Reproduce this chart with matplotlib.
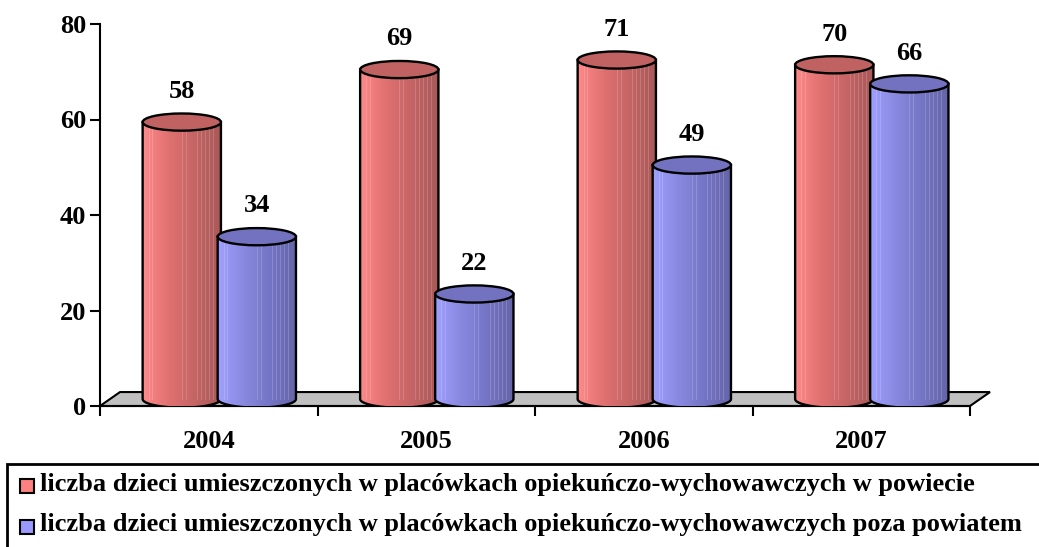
import numpy as np
import matplotlib.pyplot as plt
from matplotlib.patches import Ellipse, Polygon, Rectangle
from matplotlib.colors import LinearSegmentedColormap

years = ['2004', '2005', '2006', '2007']
w_powiecie = [58, 69, 71, 70]
poza_powiatem = [34, 22, 49, 66]
legend_labels = [
    'liczba dzieci umieszczonych w placówkach opiekuńczo-wychowawczych w powiecie',
    'liczba dzieci umieszczonych w placówkach opiekuńczo-wychowawczych poza powiatem',
]

plt.rcParams['font.family'] = ['Liberation Serif', 'DejaVu Serif']
plt.rcParams['font.weight'] = 'bold'

W, H = 1039, 547
BAR_W = 0.36      # cylinder width (category units)
ELL_H = 3.6       # ellipse height (value units)
DX, DY = 0.046, 1.46     # depth shift of cylinders
FDX, FDY = 0.092, 2.92   # floor depth
OFFSETS = [-0.17, 0.175]

red_cmap = LinearSegmentedColormap.from_list('r', ['#ff8a8a', '#e07070', '#c46464', '#a85858'])
blue_cmap = LinearSegmentedColormap.from_list('b', ['#a0a0ff', '#8888e0', '#7474c4', '#6464a8'])
series = [(w_powiecie, red_cmap, '#c06262', '#ff8080'),
          (poza_powiatem, blue_cmap, '#7272c0', '#9999ff')]


def cylinder(ax, xc, y0, y1, cmap, top_color, z):
    a, b = BAR_W / 2, ELL_H / 2
    t = np.linspace(np.pi, 2 * np.pi, 80)
    verts = [(xc - a, y1)] + list(zip(xc + a * np.cos(t), y0 + b * np.sin(t))) + [(xc + a, y1)]
    body = Polygon(verts, closed=True, facecolor='none', edgecolor='black', lw=1.7, zorder=z + 0.05)
    ax.add_patch(body)
    grad = np.linspace(0, 1, 256).reshape(1, -1)
    im = ax.imshow(grad, cmap=cmap, extent=[xc - a, xc + a, y0 - b, y1], aspect='auto',
                   origin='lower', zorder=z, interpolation='bilinear')
    im.set_clip_path(body)
    # faint vertical streaks
    for f in [0.08, 0.12, 0.5, 0.55, 0.7, 0.75, 0.8, 0.85, 0.9]:
        ax.plot([xc - a + f * BAR_W] * 2, [y0, y1], color='white', lw=0.6, alpha=0.2,
                zorder=z + 0.01, clip_path=body)
    ax.add_patch(Ellipse((xc, y1), BAR_W, ELL_H, facecolor=top_color, edgecolor='black',
                         lw=1.7, zorder=z + 0.1))


fig = plt.figure(figsize=(W / 100, H / 100), dpi=100)
ax = fig.add_axes([100 / W, 141 / H, 870 / W, 382 / H])

floor = Polygon([(-0.5, 0), (3.5, 0), (3.5 + FDX, FDY), (-0.5 + FDX, FDY)], closed=True,
                facecolor='#c0c0c0', edgecolor='black', lw=1.5, clip_on=False, zorder=1)
ax.add_patch(floor)

for i in range(len(years)):
    for s, (vals, cmap, top, _) in enumerate(series):
        xc = i + OFFSETS[s] + DX
        cylinder(ax, xc, DY, vals[i] + DY, cmap, top, z=3 + s + i * 2)
        ax.text(xc, vals[i] + 7.9, str(vals[i]), ha='center', va='center',
                fontsize=19, fontweight='bold', zorder=20)

ax.set_xlim(-0.5, 3.5)
ax.set_ylim(0, 80)
ax.set_yticks([0, 20, 40, 60, 80])
ax.set_xticks([-0.5, 0.5, 1.5, 2.5, 3.5])
ax.set_xticklabels([])
ax.set_xticks(range(len(years)), minor=True)
ax.set_xticklabels(years, minor=True)
ax.tick_params(axis='x', which='major', direction='out', length=7, width=1.5)
ax.tick_params(axis='x', which='minor', length=0, pad=17, labelsize=19)
ax.tick_params(axis='y', direction='out', length=7, width=1.5, pad=3, labelsize=19)
for sp in ['top', 'right']:
    ax.spines[sp].set_visible(False)
for sp in ['left', 'bottom']:
    ax.spines[sp].set_linewidth(1.5)
    ax.spines[sp].set_zorder(2)

# legend box, running off the bottom/right of the figure
fig.add_artist(Rectangle((7 / W, -0.05), 1.1, (547 - 464) / H + 0.05, transform=fig.transFigure,
                         fill=False, edgecolor='black', lw=2))
for k, (label, (_, _, _, swatch)) in enumerate(zip(legend_labels, series)):
    yc = (547 - (486 + 41 * k)) / H
    fig.add_artist(Rectangle((20 / W, yc - 7 / H), 14 / W, 14 / H, transform=fig.transFigure,
                             facecolor=swatch, edgecolor='black', lw=1.5))
    fig.text(40 / W, yc + 2 / H, label, ha='left', va='center', fontsize=19, fontweight='bold')

fig.savefig('out.png', dpi=100)
